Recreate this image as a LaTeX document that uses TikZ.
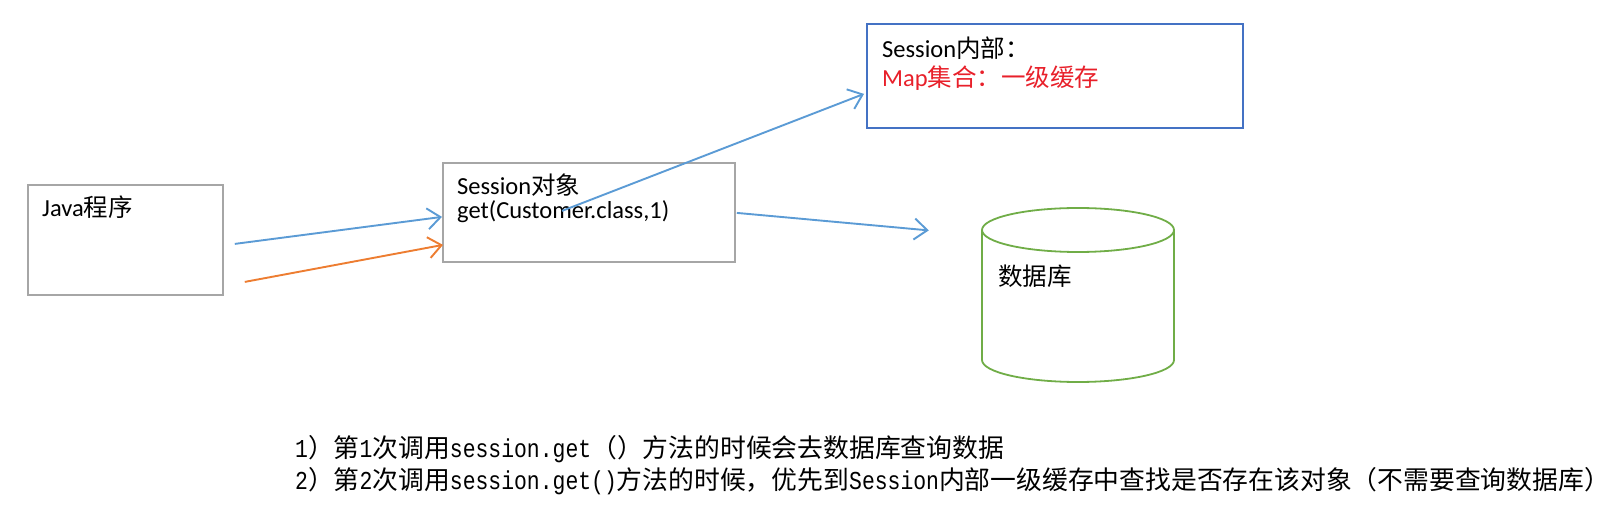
\documentclass[tikz,border=0pt]{standalone}
\usepackage{fontspec}
\setmainfont{Carlito}
\newfontfamily\cjk{Noto Sans CJK SC}
\newfontfamily\simlat[FakeStretch=0.83]{Liberation Mono}
\usetikzlibrary{positioning,shapes.geometric,arrows.meta}
\definecolor{lineblue}{HTML}{5B9BD5}
\definecolor{lineorange}{HTML}{ED7D31}
\definecolor{boxblue}{HTML}{4472C4}
\definecolor{boxgray}{HTML}{A6A6A6}
\definecolor{dbgreen}{HTML}{70AD47}
\definecolor{cachered}{HTML}{E8202A}

\begin{document}
\begin{tikzpicture}
    [x=1pt,y=-1pt,
     box/.style={draw=boxgray, line width=1.8pt, rectangle, anchor=north west, inner sep=0pt},
     txt/.style={anchor=west, inner sep=0pt, font=\fontsize{24.5}{28}\selectfont},
     note/.style={anchor=west, inner sep=0pt, font=\fontsize{25.8}{30}\selectfont\cjk},
     flow/.style={line width=1.9pt, -{Straight Barb[length=13pt,width=21pt]}}]
  \useasboundingbox (0,0) rectangle (1623,510);

  % boxes
  \node[box, minimum width=195pt, minimum height=110pt] (java) at (27,184) {};
  \node[box, minimum width=292pt, minimum height=99pt] (sess) at (442,162) {};
  \node[box, draw=boxblue, minimum width=376pt, minimum height=104pt] (cache) at (866,23) {};

  % database cylinder
  \draw[dbgreen, line width=1.8pt] (1078,230) ellipse [x radius=96, y radius=22];
  \draw[dbgreen, line width=1.8pt] (982,230) -- (982,360)
    arc [start angle=180, end angle=0, x radius=96, y radius=22] -- (1174,230);

  % texts
  \node[txt] (javatxt) at (42,207) {Java{\cjk 程序}};
  \node[txt] (sesstxt) at (457,185) {Session{\cjk 对象}};
  \node[txt] (gettxt) at (457,212) {get(Customer.class,1)};
  \node[txt] (cachetxt) at (882,48) {Session{\cjk 内部：}};
  \node[txt, text=cachered] (maptxt) at (882,78) {Map{\cjk 集合：一级缓存}};
  \node[txt] (dbtxt) at (998,276) {{\cjk 数据库}};

  \node[note] (note1) at (295,449) {{\simlat 1}）第{\simlat 1}次调用{\simlat session.get}（）方法的时候会去数据库查询数据};
  \node[note] (note2) at (295,481) {{\simlat 2}）第{\simlat 2}次调用{\simlat session.get()}方法的时候，优先到{\simlat Session}内部一级缓存中查找是否存在该对象（不需要查询数据库）};

  % arrow ends
  \coordinate (jout1) at ([shift={(11,4)}]java.east);
  \coordinate (jout2) at ([shift={(21,42)}]java.east);
  \coordinate (sin1) at ([shift={(0,4.5)}]sess.west);
  \coordinate (sin2) at ([shift={(1,32.5)}]sess.west);
  \coordinate (sget) at ([shift={(120,-1.5)}]sess.west);
  \coordinate (cin) at ([shift={(-2,18)}]cache.west);
  \coordinate (sout) at ([shift={(1,0.5)}]sess.east);
  \coordinate (dbin) at ([shift={(193,18)}]sess.east);

  \foreach \from/\to/\col in {jout1/sin1/lineblue, jout2/sin2/lineorange, sget/cin/lineblue, sout/dbin/lineblue}
    \draw[flow, draw=\col] (\from) -- (\to);
\end{tikzpicture}
\end{document}
